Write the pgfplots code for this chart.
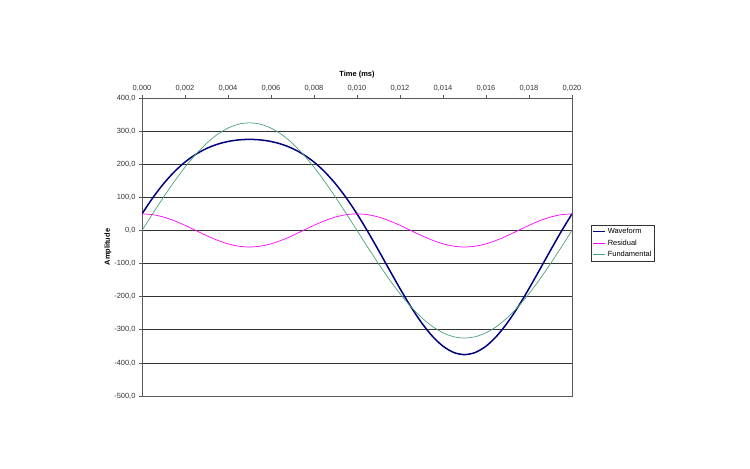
\documentclass[border=0pt]{standalone}
\usepackage{fontspec}
\setmainfont{Liberation Sans}
\usepackage{pgfplots}
\pgfplotsset{compat=1.18}
\definecolor{wave}{HTML}{000080}
\definecolor{resid}{HTML}{FF00FF}
\definecolor{fund}{HTML}{4AA27A}

% t (s), waveform, residual, fundamental
\pgfplotstableread{
t       wave     resid   fund
0.0000   50.00   50.00     0.00
0.0005   98.39   47.55    50.84
0.0010  140.88   40.45   100.43
0.0015  176.94   29.39   147.55
0.0020  206.48   15.45   191.03
0.0025  229.81    0.00   229.81
0.0030  247.48  -15.45   262.93
0.0035  260.19  -29.39   289.58
0.0040  268.64  -40.45   309.09
0.0045  273.45  -47.55   321.00
0.0050  275.00  -50.00   325.00
0.0055  273.45  -47.55   321.00
0.0060  268.64  -40.45   309.09
0.0065  260.19  -29.39   289.58
0.0070  247.48  -15.45   262.93
0.0075  229.81    0.00   229.81
0.0080  206.48   15.45   191.03
0.0085  176.94   29.39   147.55
0.0090  140.88   40.45   100.43
0.0095   98.39   47.55    50.84
0.0100   50.00   50.00     0.00
0.0105   -3.29   47.55   -50.84
0.0110  -59.98   40.45  -100.43
0.0115 -118.16   29.39  -147.55
0.0120 -175.58   15.45  -191.03
0.0125 -229.81    0.00  -229.81
0.0130 -278.38  -15.45  -262.93
0.0135 -318.97  -29.39  -289.58
0.0140 -349.54  -40.45  -309.09
0.0145 -368.55  -47.55  -321.00
0.0150 -375.00  -50.00  -325.00
0.0155 -368.55  -47.55  -321.00
0.0160 -349.54  -40.45  -309.09
0.0165 -318.97  -29.39  -289.58
0.0170 -278.38  -15.45  -262.93
0.0175 -229.81    0.00  -229.81
0.0180 -175.58   15.45  -191.03
0.0185 -118.16   29.39  -147.55
0.0190  -59.98   40.45  -100.43
0.0195   -3.29   47.55   -50.84
0.0200   50.00   50.00     0.00
}\data

\begin{document}
\begin{tikzpicture}
\useasboundingbox (0,0) rectangle (750bp,469bp);
\begin{axis}[
  at={(142bp,73bp)}, anchor=south west,
  width=430bp, height=298bp, scale only axis,
  xmin=0, xmax=0.02, ymin=-500, ymax=400,
  xtick={0,0.002,...,0.0201}, ytick={-500,-400,...,400},
  xtick pos=top, ytick pos=left, xticklabel pos=top,
  tick align=outside, major tick length=3bp,
  tick style={gray!70!black, line width=0.6bp},
  axis line style={gray!70!black, line width=0.8bp},
  ymajorgrids, major grid style={black!80, line width=0.7bp},
  scaled x ticks=false,
  /pgf/number format/assume math mode=true,
  x tick label style={/pgf/number format/.cd, fixed, fixed zerofill, precision=3, use comma},
  y tick label style={/pgf/number format/.cd, fixed, fixed zerofill, precision=1, use comma},
  ticklabel style={font=\fontsize{7.5}{9}\selectfont, text=black!80},
  xlabel={\bfseries Time (ms)}, ylabel={\bfseries Amplitude},
  label style={font=\fontsize{7.5}{9}\selectfont},
  xlabel style={yshift=0bp},
  ylabel style={yshift=-4bp},
  legend style={at={(1.0442,0.5738)}, anchor=north west,
    font=\fontsize{7.5}{8.5}\selectfont, draw=black!80, line width=0.6bp,
    inner xsep=1bp, inner ysep=1bp, row sep=0.5bp},
  legend cell align=left,
  legend image code/.code={\draw[#1] (0bp,0bp) -- (12bp,0bp);},
]
\addplot[wave, line width=1.5bp, smooth] table[x=t, y=wave] {\data};
\addlegendentry{Waveform}
\addplot[resid, line width=0.7bp, smooth] table[x=t, y=resid] {\data};
\addlegendentry{Residual}
\addplot[fund, line width=0.7bp, smooth] table[x=t, y=fund] {\data};
\addlegendentry{Fundamental}
\end{axis}
\end{tikzpicture}
\end{document}
